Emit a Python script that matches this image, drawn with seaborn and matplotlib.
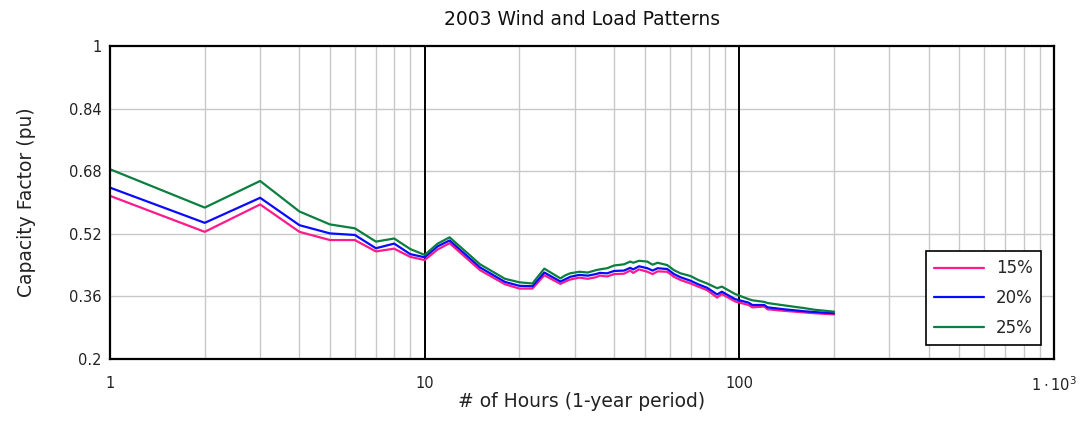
import numpy as np
import pandas as pd
import matplotlib
matplotlib.use("Agg")
import matplotlib.pyplot as plt
import seaborn as sns
from matplotlib.ticker import FixedLocator, NullFormatter

# Hours of the year ranked by capacity factor
hours = [1, 2, 3, 4, 5, 6, 7, 8, 9, 10, 11, 12, 15, 18, 20, 22, 24, 27, 28, 29,
         31, 33, 35, 36, 38, 40, 43, 45, 46, 48, 51, 53, 55, 59, 62, 65, 70, 74,
         79, 85, 88, 97, 107, 110, 120, 123, 139, 161, 173, 200]

cf_15 = [0.617, 0.525, 0.595, 0.525, 0.504, 0.504, 0.475, 0.482, 0.461, 0.453,
         0.480, 0.496, 0.427, 0.391, 0.380, 0.380, 0.414, 0.392, 0.398, 0.403,
         0.408, 0.405, 0.409, 0.413, 0.411, 0.417, 0.418, 0.426, 0.420, 0.429,
         0.423, 0.417, 0.424, 0.423, 0.410, 0.402, 0.393, 0.385, 0.376, 0.357,
         0.366, 0.347, 0.338, 0.332, 0.334, 0.327, 0.323, 0.319, 0.317, 0.314]

cf_20 = [0.638, 0.548, 0.612, 0.542, 0.521, 0.517, 0.483, 0.495, 0.468, 0.460,
         0.488, 0.503, 0.434, 0.397, 0.387, 0.386, 0.421, 0.398, 0.404, 0.410,
         0.415, 0.413, 0.417, 0.420, 0.419, 0.425, 0.426, 0.433, 0.429, 0.437,
         0.432, 0.426, 0.432, 0.430, 0.417, 0.409, 0.400, 0.391, 0.382, 0.365,
         0.372, 0.353, 0.344, 0.338, 0.338, 0.332, 0.327, 0.322, 0.320, 0.317]

cf_25 = [0.685, 0.587, 0.655, 0.577, 0.544, 0.534, 0.500, 0.508, 0.481, 0.466,
         0.495, 0.511, 0.442, 0.405, 0.396, 0.393, 0.431, 0.406, 0.414, 0.419,
         0.423, 0.421, 0.427, 0.429, 0.432, 0.439, 0.442, 0.449, 0.446, 0.451,
         0.449, 0.441, 0.446, 0.440, 0.427, 0.419, 0.412, 0.402, 0.393, 0.381,
         0.385, 0.366, 0.353, 0.350, 0.346, 0.343, 0.337, 0.330, 0.326, 0.321]

series_labels = ["15%", "20%", "25%"]
series_colors = ["#ff1a8c", "#0a0aff", "#0b7f3f"]
y_ticks = [0.2, 0.36, 0.52, 0.68, 0.84, 1.0]
y_tick_labels = ["0.2", "0.36", "0.52", "0.68", "0.84", "1"]
x_ticks = [1, 10, 100, 1000]
x_tick_labels = ["1", "10", "100", r"$1\cdot10^{3}$"]

df = pd.concat([
    pd.DataFrame({"hours": hours, "cf": vals, "penetration": lab})
    for vals, lab in zip([cf_15, cf_20, cf_25], series_labels)
])

sns.set_style("white")
plt.rcParams["font.family"] = ["DejaVu Sans"]
plt.rcParams["mathtext.fontset"] = "dejavusans"

fig = plt.figure(figsize=(10.84, 4.44), dpi=100)
ax = fig.add_axes([110 / 1084, 1 - 359 / 444, 944 / 1084, 313 / 444])

sns.lineplot(data=df, x="hours", y="cf", hue="penetration",
             palette=dict(zip(series_labels, series_colors)),
             linewidth=1.6, ax=ax, legend=True)

ax.set_xscale("log")
ax.set_xlim(1, 1000)
ax.set_ylim(0.2, 1.0)

# Grid: grey minor decades, black lines at the inner decades
minor = [m * d for d in (1, 10, 100) for m in range(2, 10)]
for xv in minor:
    ax.axvline(xv, color="#c8c8c8", lw=1.0, zorder=0)
for xv in (10, 100):
    ax.axvline(xv, color="black", lw=1.4, zorder=1)
for yv in y_ticks[1:-1]:
    ax.axhline(yv, color="#c8c8c8", lw=1.0, zorder=0)

ax.xaxis.set_major_locator(FixedLocator(x_ticks))
ax.xaxis.set_minor_locator(FixedLocator(minor))
ax.xaxis.set_minor_formatter(NullFormatter())
ax.set_xticklabels(x_tick_labels)
ax.set_yticks(y_ticks)
ax.set_yticklabels(y_tick_labels)
ax.tick_params(axis="x", which="both", length=0, pad=12, labelsize=10.5, colors="#222222")
ax.tick_params(axis="y", which="both", length=0, pad=6, labelsize=10.5, colors="#222222")

for sp in ax.spines.values():
    sp.set_visible(True)
    sp.set_color("black")
    sp.set_linewidth(1.6)

ax.set_xlabel("# of Hours (1-year period)", fontsize=13.5, color="#222222")
ax.xaxis.set_label_coords(0.5, (359 - 392) / 313)
ax.set_ylabel("Capacity Factor (pu)", fontsize=13.5, color="#222222")
ax.yaxis.set_label_coords((36 - 110) / 944, 0.5)
ax.set_title("2003 Wind and Load Patterns", fontsize=13.5, pad=15, color="#111111")

leg = ax.legend(loc="upper left", bbox_to_anchor=((926 - 110) / 944, (359 - 251) / 313),
                frameon=True, fancybox=False, edgecolor="black", framealpha=1,
                fontsize=12, handlelength=3.0, handletextpad=0.7,
                borderpad=0.5, labelspacing=0.7, borderaxespad=0)
leg.get_frame().set_linewidth(1.2)

fig.savefig("out.png", dpi=100)
